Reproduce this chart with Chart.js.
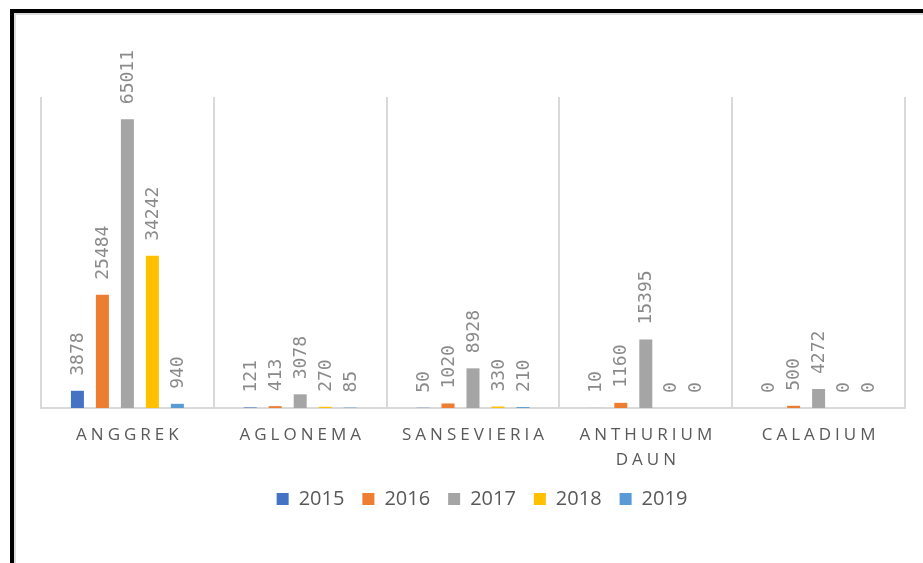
<!DOCTYPE html>
<html>
<head>
<meta charset="utf-8">
<script src="https://cdn.jsdelivr.net/npm/chart.js@4"></script>
<style>
  html, body { margin: 0; padding: 0; background: #fff; overflow: hidden; }
  #frame {
    position: absolute; left: 10px; top: 9px; width: 1000px; height: 700px;
    border-left: 4px solid #000; border-top: 4px solid #000;
    box-shadow: inset 2px 2px 0 #dcdcdc;
  }
  #wrap { position: absolute; left: 0; top: 0; width: 923px; height: 563px; }
</style>
</head>
<body>
<div id="frame"></div>
<div id="wrap"><canvas id="chart"></canvas></div>
<script>
// categories (multi-line labels as arrays)
const categories = [['ANGGREK'], ['AGLONEMA'], ['SANSEVIERIA'], ['ANTHURIUM', 'DAUN'], ['CALADIUM']];
const years = ['2015', '2016', '2017', '2018', '2019'];

// values per year, in category order
const values2015 = [3878, 121, 50, 10, 0];
const values2016 = [25484, 413, 1020, 1160, 500];
const values2017 = [65011, 3078, 8928, 15395, 4272];
const values2018 = [34242, 270, 330, 0, 0];
const values2019 = [940, 85, 210, 0, 0];

const colors = ['#4472c4', '#ed7d31', '#a5a5a5', '#ffc000', '#5b9bd5'];
const allValues = [values2015, values2016, values2017, values2018, values2019];

// draws rotated value labels and the spaced-out category labels
const labelPlugin = {
    id: 'labelPlugin',
    afterLayout(chart) {
        // legend sits a little right of the plot centre in the original
        chart.legend.left += 9;
        chart.legend.right += 9;
    },
    afterDraw(chart) {
        const ctx = chart.ctx;
        ctx.save();
        ctx.font = '18px "DejaVu Sans Mono"';
        ctx.fillStyle = '#8a8a8a';
        ctx.textAlign = 'left';
        ctx.textBaseline = 'middle';
        chart.data.datasets.forEach((ds, i) => {
            chart.getDatasetMeta(i).data.forEach((bar, j) => {
                ctx.save();
                ctx.translate(bar.x, bar.y - 15);
                ctx.rotate(-Math.PI / 2);
                ctx.fillText(String(ds.data[j]), 0, 1);
                ctx.restore();
            });
        });

        const xScale = chart.scales.x;
        ctx.font = '17px "Open Sans"';
        ctx.fillStyle = '#595959';
        ctx.letterSpacing = '4px';
        ctx.textAlign = 'center';
        categories.forEach((lines, j) => {
            const x = xScale.getPixelForValue(j) + 2;
            lines.forEach((line, k) => {
                ctx.fillText(line, x, xScale.top + 27 + k * 25);
            });
        });
        ctx.restore();
    }
};

const ctx = document.getElementById('chart').getContext('2d');
new Chart(ctx, {
    type: 'bar',
    data: {
        labels: categories,
        datasets: years.map((y, i) => ({
            label: y,
            data: allValues[i],
            backgroundColor: colors[i],
            categoryPercentage: 0.723,
            barPercentage: 0.52
        }))
    },
    options: {
        responsive: true,
        maintainAspectRatio: false,
        animation: false,
        layout: { padding: { left: 41, right: 18, top: 97, bottom: 44 } },
        plugins: {
            tooltip: { enabled: false },
            legend: {
                position: 'bottom',
                labels: {
                    boxWidth: 12,
                    boxHeight: 12,
                    padding: 18,
                    color: '#595959',
                    font: { family: '"Open Sans"', size: 20 }
                }
            }
        },
        scales: {
            x: {
                z: 1,
                grid: { color: '#d9d9d9', lineWidth: 2, drawTicks: false },
                border: { color: '#d9d9d9', width: 2 },
                ticks: { display: false },
                afterFit(scale) { scale.height = 63; }
            },
            y: {
                display: false,
                min: 0,
                max: 70000
            }
        }
    },
    plugins: [labelPlugin]
});
</script>
</body>
</html>
